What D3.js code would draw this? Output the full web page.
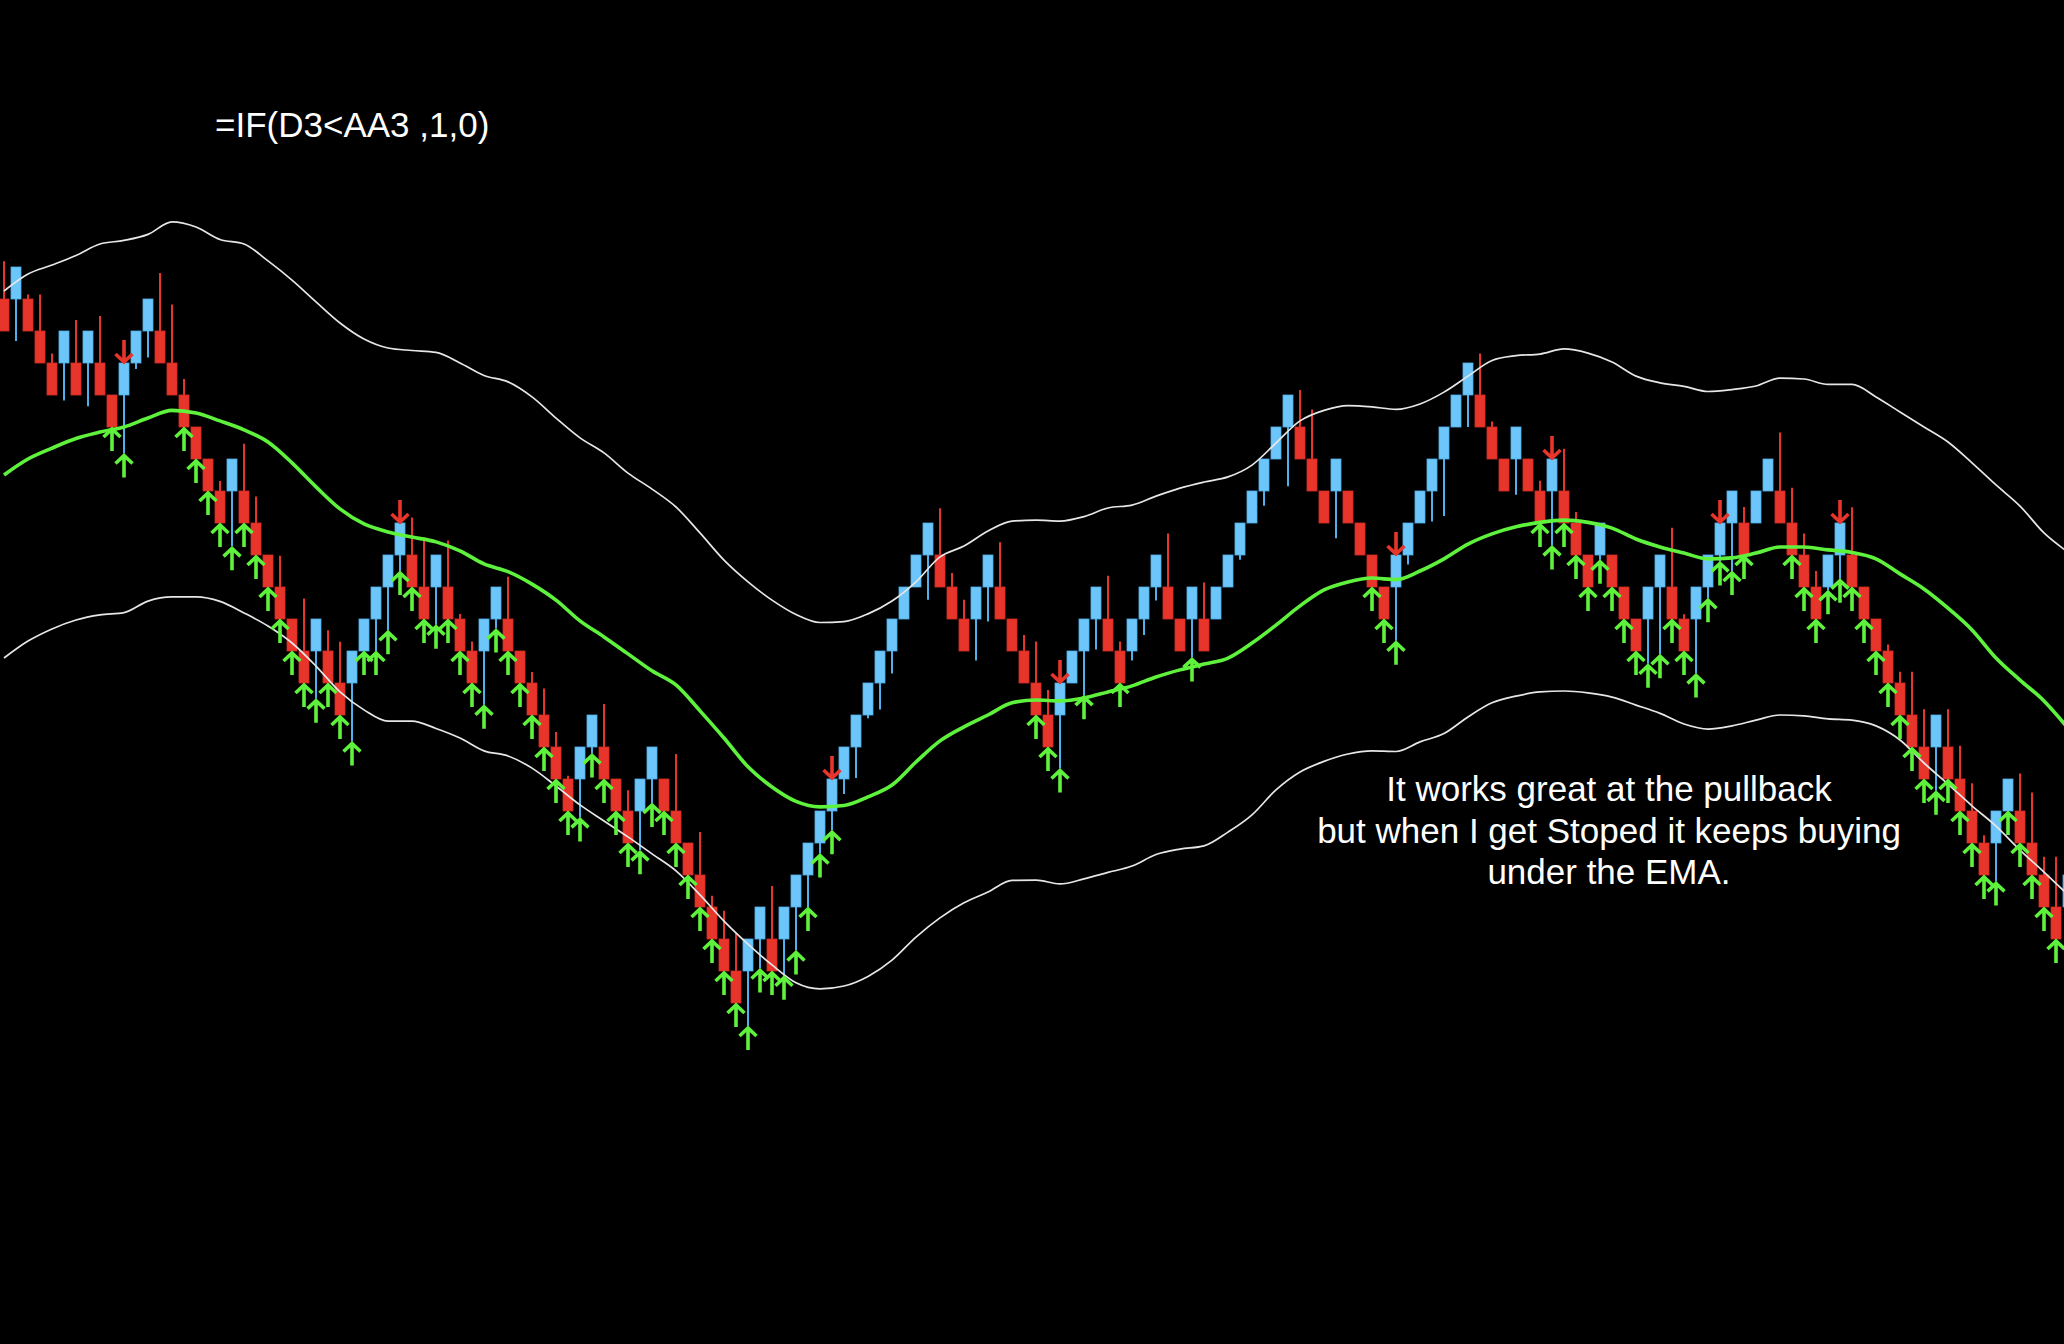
<!DOCTYPE html>
<html><head><meta charset="utf-8">
<script src="https://cdn.jsdelivr.net/npm/d3@7"></script>
<style>html,body{margin:0;padding:0;background:#000;overflow:hidden}</style>
</head><body>
<svg id="chart" width="2064" height="1344"></svg>
<script>
// ---- Data (price in brick units) ----
const open = [
99,99,99,98,97,97,97,97,97,96,
96,97,98,98,97,96,95,94,93,93,
93,92,91,90,89,88,88,88,87,87,
88,89,90,91,91,90,90,90,89,88,
88,89,89,88,87,86,85,84,84,85,
85,84,83,83,84,84,83,82,81,80,
79,78,78,79,79,79,80,81,82,83,
84,85,86,87,88,89,90,91,91,90,
89,89,90,90,89,88,87,86,86,87,
88,89,89,88,88,89,90,90,89,89,
89,89,90,91,92,93,94,95,95,94,
93,93,93,92,91,90,90,91,92,93,
94,95,96,96,95,94,94,94,93,93,
93,92,91,91,91,90,89,89,90,90,
89,89,90,91,92,92,92,93,93,92,
91,90,90,91,91,90,89,88,87,86,
85,85,85,84,83,82,82,83,83,82,
81,80,80];
const close = [
98,100,98,97,96,98,96,98,96,95,
97,98,99,97,96,95,94,93,92,94,
92,91,90,89,88,87,89,87,86,88,
89,90,91,92,90,89,91,89,88,87,
89,90,88,87,86,85,84,83,85,86,
84,83,82,84,85,83,82,81,80,79,
78,77,79,80,78,80,81,82,83,84,
85,86,87,88,89,90,91,92,90,89,
88,90,91,89,88,87,86,85,87,88,
89,90,88,87,89,90,91,89,88,90,
88,90,91,92,93,94,95,96,94,93,
92,94,92,91,90,89,91,92,93,94,
95,96,97,95,94,93,95,93,92,94,
92,91,90,92,90,89,88,90,91,89,
88,90,91,92,93,91,93,94,92,91,
90,89,91,92,90,89,88,87,86,85,
84,86,84,83,82,81,83,84,82,81,
80,79,81];
const high = [
100.18,100,99.14,99.14,97.3,98,98.34,98,98.47,96,
97,98,99,99.81,98.83,96.5,95,94,93.31,94,
94.48,92.83,91,90.98,89,89.64,89,88.65,88.29,88,
89,90,91,92,92.17,91.55,91,91.45,89.16,88.3,
89,90,90.32,88,87.34,86.83,85.47,84.1,85,86,
86.34,84,83.65,84,85,84,84.78,82,82.34,80.35,
79.88,79.18,79,80,80.66,80,81,82,83,84,
85,86,87,88,89,90,91,92,92.46,90.44,
89.6,90,91,91.4,89,88.5,88.3,86.78,87,88,
89,90,90.35,88.3,89,90,91,91.67,89,90,
90.14,90,91,92,93,94,95,96,96.16,95.55,
93,94,93,92,91,90,91,92,93,94,
95,96,97,97.3,95.17,94,95,94,93.32,94,
94.32,92.34,91,92,91,90,89,90,91,91.85,
89.15,90,91,92,93,92.5,93,94,94.83,93.1,
91.67,90.5,91,92,92.49,90,89,88.2,87.35,87.35,
86.18,86,86.18,85.04,83.87,82.24,83,84,84.17,83.58,
81.57,81.57,81];
const low = [
98,97.69,98,97,96,95.83,96,95.65,96,95,
94.17,96.81,97.17,97,96,95,94,93,92,91.27,
92,91,90,89,88,87,86.51,87,86,85.17,
88,88,88.65,90.5,90,89,88.82,89,88,87,
86.32,88.7,88,87,86,85,84,83,82.8,84.8,
84,83,82,81.77,83.25,83,82,81,80,79,
78,77,76.28,78.08,78,77.85,78.64,80,81.67,82.4,
83.53,84.03,85.9,86.17,87.3,89,90,89.6,90,89,
88,87.7,88.92,89,88,87,86,85,84.33,87,
86.62,88.05,88,87,87.7,88.5,89.58,89,88,87.8,
88,89,90,90.85,92,92.54,94,93.15,94,93,
92,91.52,92,91,90,89,88.32,90.7,92,92.05,
92.22,95,95,95,94,93,92.88,93,92,91.3,
92,91,90,90.85,90,89,88,87.6,87.9,89,
88,87.3,89.65,90.8,90.5,91,92,93,92,91,
90,89,89.9,90.26,90,89,88,87,86,85,
84,83.63,84,83,82,81,80.8,83,82,81,
80,79,80];

// signal arrows (candle indices)
const buyIdx = [9,10,15,16,17,18,19,20,21,22,23,24,25,26,27,28,29,30,31,32,33,34,35,36,37,38,39,40,
41,42,43,44,45,46,47,48,49,50,51,52,53,54,55,56,57,58,59,60,61,62,63,64,65,66,67,68,69,
86,87,88,90,93,99,114,115,116,128,129,130,131,132,133,134,135,136,137,138,139,140,141,142,143,144,145,
149,150,151,152,153,154,155,156,157,158,159,160,161,162,163,164,165,166,167,168,169,170,171];
const sellIdx = [10,33,69,88,116,129,143,153];

// indicator lines, one value every 2 candles (candle index = 2*k)
const lineStep = 2;
const upperBand = [
99.25,99.78,100.06,100.36,100.72,100.83,101.02,101.41,101.25,100.86,
100.72,100.19,99.59,98.91,98.25,97.75,97.47,97.39,97.33,97.0,
96.61,96.41,95.94,95.28,94.66,94.19,93.56,93.06,92.5,91.69,
90.84,90.16,89.59,89.14,88.89,88.92,89.16,89.56,90.16,90.94,
91.28,91.75,92.06,92.09,92.06,92.2,92.47,92.56,92.84,93.09,
93.28,93.44,93.81,94.5,95.19,95.52,95.67,95.63,95.55,95.72,
96.09,96.59,97.08,97.23,97.28,97.44,97.31,97.03,96.59,96.38,
96.27,96.11,96.17,96.28,96.53,96.5,96.33,96.33,95.94,95.47,
95.0,94.53,93.88,93.19,92.53,91.69,91.09];
const ema = [
93.5,94.0,94.34,94.64,94.84,95.0,95.28,95.52,95.44,95.19,
94.91,94.53,93.88,93.13,92.44,91.97,91.72,91.56,91.41,91.13,
90.72,90.48,90.09,89.59,88.94,88.44,87.91,87.38,86.94,86.13,
85.28,84.38,83.75,83.3,83.13,83.17,83.44,83.81,84.53,85.19,
85.63,86.0,86.38,86.47,86.44,86.53,86.72,86.91,87.19,87.41,
87.59,87.78,88.25,88.81,89.41,89.91,90.16,90.28,90.23,90.5,
90.88,91.34,91.66,91.88,92.02,92.09,92.02,91.84,91.5,91.25,
91.06,90.88,90.91,91.06,91.25,91.25,91.16,91.08,90.88,90.41,
89.94,89.34,88.66,87.78,87.09,86.44,85.59];
const lowerBand = [
87.78,88.31,88.69,88.97,89.13,89.2,89.56,89.69,89.69,89.55,
89.19,88.78,88.25,87.53,86.72,86.16,85.81,85.81,85.58,85.28,
84.88,84.72,84.34,83.78,83.19,82.69,82.19,81.66,81.13,80.38,
79.56,78.84,78.19,77.63,77.44,77.53,77.83,78.34,79.06,79.66,
80.13,80.47,80.83,80.84,80.72,80.88,81.08,81.28,81.64,81.81,
81.91,82.34,82.88,83.66,84.22,84.55,84.78,84.88,84.86,85.16,
85.42,85.94,86.38,86.59,86.72,86.75,86.69,86.56,86.31,86.05,
85.72,85.56,85.66,85.84,86.0,85.97,85.88,85.84,85.66,85.22,
84.5,83.84,83.16,82.53,81.78,81.09,80.38];

const formulaText = "=IF(D3<AA3 ,1,0)";
const noteLines = ["It works great at the pullback", "but when I get Stoped it keeps buying", "under the EMA."];

// ---- Drawing ----
const W = 2064, H = 1344;
const BLUE = "#6cc6fa", BLUE_EDGE = "#4fb0ec", RED = "#e8352b", GREEN = "#5ff23d", WHITE = "#e6e6e6";
const svg = d3.select("#chart");
svg.append("rect").attr("width", W).attr("height", H).attr("fill", "#000");

const x = d3.scaleLinear().domain([0, 171]).range([4, 2056]);
const y = d3.scaleLinear().domain([100, 77]).range([267, 1003]);

const candles = open.map((o, i) => ({ i, o, c: close[i], h: high[i], l: low[i] }));
const up = d => d.c > d.o;
const bodyW = 10;

const cg = svg.append("g");
cg.selectAll("line.wick").data(candles).join("line").attr("class", "wick")
  .attr("x1", d => x(d.i)).attr("x2", d => x(d.i))
  .attr("y1", d => y(d.h)).attr("y2", d => y(d.l))
  .attr("stroke", d => up(d) ? BLUE_EDGE : RED).attr("stroke-width", 2);
cg.selectAll("rect.body").data(candles).join("rect").attr("class", "body")
  .attr("x", d => x(d.i) - bodyW / 2).attr("width", bodyW)
  .attr("y", d => y(Math.max(d.o, d.c)))
  .attr("height", d => Math.abs(y(d.o) - y(d.c)))
  .attr("fill", d => up(d) ? BLUE : RED)
  .attr("stroke", d => up(d) ? BLUE_EDGE : "#d62e25").attr("stroke-width", 0.8);

// lines
const lineGen = d3.line().x((d, k) => x(k * lineStep)).y(d => y(d)).curve(d3.curveMonotoneX);
svg.append("path").datum(upperBand).attr("d", lineGen).attr("fill", "none").attr("stroke", WHITE).attr("stroke-width", 1.7);
svg.append("path").datum(lowerBand).attr("d", lineGen).attr("fill", "none").attr("stroke", WHITE).attr("stroke-width", 1.7);
svg.append("path").datum(ema).attr("d", lineGen).attr("fill", "none").attr("stroke", GREEN).attr("stroke-width", 3.6);

// arrows
const ag = svg.append("g").attr("fill", "none").attr("stroke-width", 3.6).attr("stroke-linejoin", "miter");
ag.selectAll("path.buy").data(buyIdx).join("path").attr("class", "buy")
  .attr("stroke", GREEN)
  .attr("d", i => {
    const cx = x(i), t = y(low[i]) + 2;
    return `M${cx},${t + 22}L${cx},${t + 1}M${cx - 8.5},${t + 8}L${cx},${t}L${cx + 8.5},${t + 8}`;
  });
ag.selectAll("path.sell").data(sellIdx).join("path").attr("class", "sell")
  .attr("stroke", RED)
  .attr("d", i => {
    const cx = x(i), t = y(high[i]) - 1;
    return `M${cx},${t - 22}L${cx},${t - 1}M${cx - 8.5},${t - 8}L${cx},${t}L${cx + 8.5},${t - 8}`;
  });

// texts
const font = "'Liberation Sans', Arial, Helvetica, sans-serif";
svg.append("text").attr("x", 215).attr("y", 137).attr("fill", "#fff")
  .attr("font-family", font).attr("font-size", 35).text(formulaText);
svg.append("g").selectAll("text").data(noteLines).join("text")
  .attr("x", 1609).attr("y", (d, k) => 801 + k * 41.5)
  .attr("text-anchor", "middle").attr("fill", "#fff")
  .attr("font-family", font).attr("font-size", 35).text(d => d);
</script>
</body></html>
